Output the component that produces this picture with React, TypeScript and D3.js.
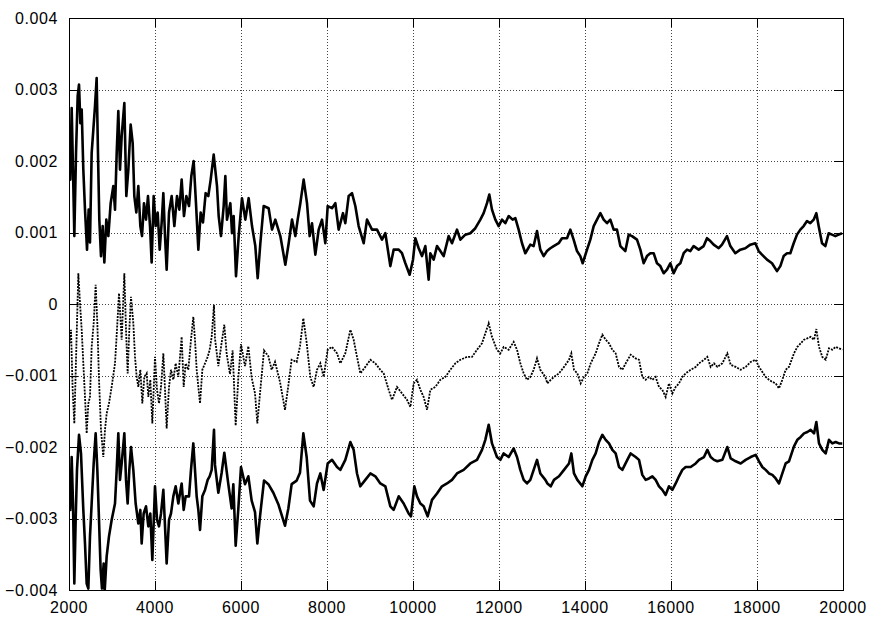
import React, { useEffect, useRef } from 'react';
import * as d3 from 'd3';

// series values are read in units of 1e-3
const UNIT = 1e-3;

const topSeries: [number, number][] = [
  [2000, 2.11], [2031, 1.74], [2062, 2.74], [2093, 1.88], [2124, 0.95], [2163, 2.11], [2202, 2.91],
  [2233, 3.07], [2264, 2.53], [2295, 2.72], [2333, 1.88], [2372, 1.32], [2419, 0.76], [2457, 1.32],
  [2488, 0.86], [2527, 2.11], [2566, 2.44], [2605, 2.77], [2643, 3.16], [2674, 2.11], [2705, 1.18],
  [2744, 0.67], [2783, 1.09], [2822, 0.58], [2868, 1.18], [2915, 0.95], [2969, 1.41], [3031, 1.65],
  [3070, 1.32], [3109, 2.11], [3147, 2.7], [3186, 1.88], [3225, 2.35], [3287, 2.81], [3333, 1.51],
  [3380, 1.88], [3434, 2.51], [3481, 2.25], [3519, 1.51], [3566, 1.28], [3612, 1.65], [3659, 1.09],
  [3698, 0.95], [3744, 1.41], [3791, 1.18], [3837, 1.51], [3884, 1.09], [3922, 0.58], [3969, 1.51],
  [4016, 1.09], [4062, 1.28], [4109, 0.76], [4155, 1.14], [4194, 1.55], [4233, 0.95], [4271, 0.48],
  [4326, 1.28], [4388, 1.51], [4450, 1.09], [4512, 1.51], [4566, 1.32], [4620, 1.74], [4674, 1.23],
  [4729, 1.51], [4791, 1.37], [4845, 1.79], [4899, 2.0], [4953, 1.41], [5008, 0.76], [5062, 1.28],
  [5116, 1.14], [5178, 1.55], [5240, 1.51], [5295, 1.74], [5365, 2.09], [5442, 1.65], [5481, 1.23],
  [5535, 0.95], [5597, 1.37], [5636, 1.79], [5674, 1.18], [5752, 1.41], [5791, 0.99], [5829, 1.23],
  [5884, 0.39], [5946, 0.95], [6023, 1.48], [6101, 1.18], [6178, 1.48], [6256, 1.09], [6333, 0.81],
  [6388, 0.36], [6450, 0.85], [6527, 1.37], [6643, 1.34], [6721, 1.04], [6798, 1.18], [6915, 0.95],
  [7031, 0.55], [7109, 0.85], [7186, 1.18], [7264, 0.95], [7318, 1.18], [7380, 1.41], [7457, 1.74],
  [7535, 1.41], [7597, 0.95], [7651, 1.13], [7729, 0.69], [7806, 1.04], [7884, 1.18], [7961, 0.85],
  [8016, 1.37], [8116, 1.34], [8194, 1.41], [8271, 1.04], [8372, 1.27], [8426, 1.13], [8504, 1.51],
  [8581, 1.55], [8659, 1.37], [8736, 1.09], [8853, 0.85], [8930, 1.18], [9047, 1.04], [9163, 1.04],
  [9279, 0.9], [9357, 0.99], [9473, 0.53], [9550, 0.76], [9667, 0.76], [9744, 0.71], [9822, 0.57],
  [9922, 0.41], [10000, 0.62], [10054, 0.92], [10132, 0.78], [10209, 0.67], [10287, 0.81], [10364, 0.34],
  [10403, 0.71], [10481, 0.62], [10558, 0.81], [10636, 0.74], [10713, 0.67], [10829, 0.95], [10907, 0.85],
  [11023, 1.04], [11101, 0.9], [11217, 0.97], [11333, 0.99], [11450, 1.06], [11566, 1.18], [11643, 1.27],
  [11721, 1.41], [11775, 1.53], [11837, 1.32], [11915, 1.18], [11992, 1.09], [12070, 1.18], [12147, 1.13],
  [12225, 1.23], [12318, 1.18], [12380, 1.2], [12457, 1.04], [12535, 0.85], [12612, 0.71], [12729, 0.83],
  [12806, 0.81], [12884, 1.02], [12961, 0.76], [13039, 0.67], [13116, 0.74], [13194, 0.78], [13271, 0.81],
  [13388, 0.85], [13465, 0.92], [13581, 0.92], [13659, 1.04], [13736, 0.9], [13814, 0.74], [13891, 0.67],
  [13946, 0.57], [14047, 0.76], [14124, 0.9], [14202, 1.09], [14279, 1.18], [14357, 1.27], [14434, 1.18],
  [14512, 1.13], [14589, 1.18], [14667, 1.04], [14744, 1.04], [14822, 0.81], [14938, 0.74], [15016, 0.97],
  [15093, 0.95], [15209, 0.9], [15287, 0.76], [15364, 0.57], [15442, 0.67], [15519, 0.71], [15597, 0.71],
  [15674, 0.57], [15752, 0.53], [15829, 0.43], [15907, 0.48], [15984, 0.57], [16062, 0.43], [16140, 0.53],
  [16217, 0.57], [16295, 0.71], [16372, 0.76], [16450, 0.74], [16527, 0.81], [16643, 0.76], [16760, 0.81],
  [16837, 0.92], [16915, 0.88], [16992, 0.83], [17109, 0.78], [17186, 0.83], [17302, 0.95], [17380, 0.81],
  [17496, 0.71], [17612, 0.76], [17729, 0.78], [17845, 0.83], [17961, 0.85], [18039, 0.74], [18116, 0.69],
  [18233, 0.62], [18349, 0.57], [18465, 0.46], [18543, 0.53], [18620, 0.67], [18698, 0.71], [18775, 0.71],
  [18853, 0.85], [18930, 0.97], [19008, 1.04], [19085, 1.09], [19163, 1.16], [19240, 1.13], [19318, 1.18],
  [19380, 1.27], [19434, 1.09], [19512, 0.85], [19589, 0.81], [19667, 0.99], [19744, 0.97], [19822, 0.95],
  [19899, 0.97], [19977, 0.99],
];

const middleSeries: [number, number][] = [
  [2000, -0.6], [2047, -0.36], [2085, -1.2], [2124, -1.67], [2171, -0.6], [2217, 0.43], [2256, 0.01],
  [2295, -0.36], [2333, -0.83], [2372, -1.3], [2411, -1.81], [2450, -1.39], [2488, -1.3], [2527, -0.6],
  [2574, -0.27], [2620, 0.27], [2659, -0.27], [2698, -1.06], [2744, -1.76], [2798, -2.14], [2837, -1.76],
  [2876, -1.53], [2930, -1.39], [2992, -1.16], [3070, -0.83], [3116, -0.36], [3163, 0.15], [3225, -0.5],
  [3287, 0.43], [3326, -0.36], [3364, -0.97], [3403, -0.36], [3442, 0.1], [3496, -0.27], [3535, -0.74],
  [3574, -1.02], [3612, -1.16], [3659, -0.92], [3705, -1.39], [3752, -1.02], [3806, -0.97], [3845, -1.3],
  [3891, -1.06], [3938, -1.67], [4000, -0.74], [4047, -1.2], [4093, -1.39], [4140, -1.16], [4194, -0.69],
  [4233, -1.2], [4271, -1.74], [4326, -1.16], [4372, -0.92], [4426, -1.06], [4481, -0.83], [4543, -1.02],
  [4581, -0.74], [4620, -0.46], [4667, -1.16], [4713, -0.83], [4775, -0.92], [4837, -0.5], [4891, -0.18],
  [4930, -0.5], [4969, -0.92], [5008, -1.16], [5047, -1.39], [5101, -0.92], [5163, -0.83], [5225, -0.74],
  [5271, -0.64], [5318, -0.46], [5372, -0.01], [5395, -0.48], [5473, -0.87], [5550, -0.54], [5612, -0.29],
  [5667, -0.7], [5744, -0.98], [5806, -0.65], [5876, -1.7], [5938, -1.03], [6000, -0.56], [6093, -0.87],
  [6171, -0.59], [6248, -1.03], [6326, -1.25], [6380, -1.67], [6442, -1.25], [6535, -0.65], [6636, -0.73],
  [6713, -0.92], [6791, -0.81], [6907, -1.09], [7023, -1.48], [7101, -1.14], [7178, -0.78], [7295, -0.81],
  [7372, -0.59], [7450, -0.2], [7527, -0.54], [7612, -1.02], [7690, -1.16], [7767, -0.92], [7845, -0.83],
  [7922, -1.02], [8016, -0.64], [8116, -0.6], [8233, -0.69], [8310, -0.83], [8426, -0.69], [8543, -0.36],
  [8620, -0.5], [8698, -0.74], [8775, -0.97], [8891, -0.88], [9008, -0.78], [9124, -0.83], [9240, -0.92],
  [9318, -0.97], [9434, -1.2], [9512, -1.34], [9628, -1.16], [9744, -1.25], [9860, -1.34], [9938, -1.44],
  [10016, -1.11], [10093, -1.06], [10171, -1.2], [10248, -1.3], [10326, -1.48], [10403, -1.2], [10519, -1.16],
  [10636, -1.06], [10752, -1.02], [10868, -0.92], [10984, -0.83], [11101, -0.78], [11256, -0.74], [11372, -0.74],
  [11488, -0.64], [11605, -0.55], [11682, -0.41], [11760, -0.27], [11837, -0.46], [11953, -0.64], [12031, -0.69],
  [12109, -0.6], [12225, -0.64], [12341, -0.53], [12419, -0.64], [12496, -0.83], [12574, -0.97], [12651, -1.06],
  [12729, -1.02], [12806, -0.92], [12884, -0.76], [12961, -0.92], [13078, -1.02], [13124, -1.11], [13202, -1.06],
  [13279, -1.02], [13395, -0.97], [13512, -0.88], [13628, -0.78], [13682, -0.69], [13744, -0.92], [13822, -0.97],
  [13899, -1.11], [13977, -1.02], [14054, -0.97], [14132, -0.83], [14248, -0.69], [14326, -0.55], [14403, -0.43],
  [14481, -0.5], [14558, -0.55], [14636, -0.64], [14713, -0.69], [14791, -0.88], [14868, -0.92], [14946, -0.83],
  [15062, -0.71], [15178, -0.76], [15256, -0.78], [15333, -1.02], [15411, -1.06], [15488, -1.02], [15566, -1.06],
  [15643, -1.02], [15721, -1.16], [15798, -1.2], [15876, -1.3], [15953, -1.11], [16031, -1.25], [16109, -1.16],
  [16186, -1.11], [16264, -1.02], [16341, -0.97], [16457, -0.92], [16574, -0.88], [16651, -0.83], [16767, -0.78],
  [16845, -0.74], [16922, -0.88], [17000, -0.83], [17078, -0.88], [17194, -0.83], [17310, -0.69], [17388, -0.85],
  [17504, -0.88], [17620, -0.92], [17736, -0.88], [17853, -0.81], [17969, -0.78], [18047, -0.88], [18124, -0.95],
  [18202, -1.02], [18279, -1.06], [18357, -1.09], [18434, -1.11], [18512, -1.18], [18589, -1.06], [18667, -0.92],
  [18744, -0.88], [18860, -0.69], [18938, -0.6], [19016, -0.55], [19093, -0.5], [19171, -0.48], [19248, -0.46],
  [19326, -0.5], [19380, -0.35], [19442, -0.6], [19519, -0.74], [19597, -0.78], [19674, -0.62], [19752, -0.64],
  [19829, -0.6], [19907, -0.62], [19984, -0.64],
];

const bottomSeries: [number, number][] = [
  [2000, -2.55], [2031, -2.88], [2062, -2.14], [2093, -2.79], [2124, -3.91], [2155, -3.02], [2186, -2.32],
  [2233, -1.83], [2279, -2.09], [2333, -2.88], [2372, -3.35], [2411, -3.91], [2450, -3.98], [2488, -3.25],
  [2527, -2.79], [2574, -2.23], [2620, -1.81], [2659, -2.32], [2698, -3.02], [2736, -3.72], [2767, -3.98],
  [2806, -3.63], [2829, -4.02], [2876, -3.53], [2930, -3.25], [2992, -3.02], [3070, -2.79], [3109, -2.32],
  [3147, -1.81], [3186, -2.46], [3225, -2.23], [3287, -1.81], [3326, -2.46], [3364, -2.79], [3403, -2.32],
  [3442, -2.0], [3496, -2.32], [3550, -2.79], [3612, -3.07], [3659, -2.88], [3690, -3.35], [3736, -2.93],
  [3791, -2.83], [3845, -3.11], [3891, -2.93], [3938, -3.58], [4000, -2.55], [4047, -3.02], [4093, -3.11],
  [4140, -2.93], [4194, -2.6], [4233, -3.11], [4271, -3.63], [4326, -3.02], [4372, -2.93], [4426, -2.69],
  [4481, -2.55], [4543, -2.79], [4581, -2.65], [4620, -2.51], [4667, -2.88], [4713, -2.69], [4791, -2.69],
  [4837, -2.32], [4891, -1.95], [4930, -2.32], [4969, -2.69], [5008, -2.88], [5047, -3.16], [5101, -2.69],
  [5163, -2.6], [5225, -2.46], [5271, -2.41], [5318, -2.32], [5372, -1.76], [5395, -2.25], [5473, -2.64],
  [5550, -2.36], [5612, -2.08], [5705, -2.52], [5783, -2.86], [5822, -2.52], [5876, -3.38], [5938, -2.86],
  [6000, -2.28], [6093, -2.52], [6171, -2.41], [6248, -2.75], [6326, -2.91], [6380, -3.35], [6442, -2.97],
  [6535, -2.47], [6636, -2.52], [6752, -2.64], [6868, -2.8], [7023, -3.1], [7101, -2.86], [7178, -2.52],
  [7295, -2.47], [7372, -2.36], [7450, -1.81], [7527, -2.14], [7605, -2.75], [7690, -2.83], [7767, -2.51],
  [7845, -2.37], [7922, -2.6], [8016, -2.23], [8116, -2.18], [8233, -2.28], [8310, -2.32], [8426, -2.18],
  [8543, -1.93], [8620, -2.04], [8698, -2.37], [8775, -2.55], [8891, -2.46], [9008, -2.37], [9124, -2.41],
  [9240, -2.51], [9357, -2.55], [9473, -2.83], [9550, -2.88], [9667, -2.69], [9783, -2.79], [9899, -2.93],
  [9953, -2.97], [10031, -2.55], [10093, -2.69], [10171, -2.79], [10248, -2.83], [10341, -2.97], [10442, -2.74],
  [10558, -2.65], [10674, -2.55], [10791, -2.51], [10907, -2.46], [11023, -2.37], [11178, -2.32], [11333, -2.23],
  [11488, -2.18], [11605, -2.04], [11682, -1.9], [11760, -1.69], [11837, -1.95], [11953, -2.14], [12031, -2.18],
  [12109, -2.09], [12225, -2.14], [12341, -2.02], [12419, -2.14], [12496, -2.32], [12574, -2.46], [12651, -2.51],
  [12729, -2.46], [12806, -2.32], [12884, -2.18], [12961, -2.37], [13078, -2.46], [13124, -2.51], [13202, -2.55],
  [13279, -2.46], [13395, -2.41], [13512, -2.32], [13628, -2.23], [13682, -2.09], [13744, -2.37], [13822, -2.46],
  [13938, -2.55], [14016, -2.41], [14093, -2.32], [14171, -2.18], [14248, -2.09], [14326, -1.93], [14403, -1.83],
  [14481, -1.9], [14558, -1.95], [14636, -2.04], [14713, -2.09], [14791, -2.28], [14868, -2.32], [14984, -2.18],
  [15062, -2.09], [15178, -2.14], [15256, -2.18], [15333, -2.39], [15411, -2.46], [15488, -2.44], [15566, -2.41],
  [15643, -2.46], [15721, -2.55], [15798, -2.6], [15876, -2.67], [15953, -2.55], [16031, -2.6], [16109, -2.51],
  [16186, -2.41], [16264, -2.32], [16341, -2.28], [16457, -2.28], [16574, -2.23], [16651, -2.18], [16767, -2.14],
  [16845, -2.04], [16922, -2.14], [17000, -2.18], [17078, -2.2], [17194, -2.18], [17310, -2.0], [17388, -2.16],
  [17504, -2.2], [17620, -2.23], [17736, -2.18], [17853, -2.14], [17969, -2.11], [18047, -2.2], [18124, -2.28],
  [18202, -2.32], [18279, -2.37], [18357, -2.39], [18434, -2.44], [18512, -2.51], [18589, -2.37], [18667, -2.23],
  [18744, -2.2], [18860, -1.99], [18938, -1.9], [19016, -1.86], [19093, -1.81], [19171, -1.79], [19248, -1.76],
  [19326, -1.81], [19380, -1.65], [19442, -1.95], [19519, -2.04], [19597, -2.09], [19674, -1.9], [19752, -1.95],
  [19829, -1.93], [19907, -1.95], [19984, -1.95],
];

const xTicks = [2000, 4000, 6000, 8000, 10000, 12000, 14000, 16000, 18000, 20000];
const yTicks = [-4, -3, -2, -1, 0, 1, 2, 3, 4];

const W = 869;
const H = 618;

const App = () => {
  const svgRef = useRef<SVGSVGElement>(null);

  useEffect(() => {
    const svg = d3.select(svgRef.current);
    svg.selectAll('*').remove();

    const left = 69, right = 843, top = 18, bottom = 590;
    const x = d3.scaleLinear().domain([2000, 20000]).range([left, right]);
    const y = d3.scaleLinear().domain([-4 * UNIT, 4 * UNIT]).range([bottom, top]);
    const px = (v: number) => Math.round(v) + 0.5;

    svg.append('rect').attr('width', W).attr('height', H).attr('fill', '#fff');

    svg.append('clipPath').attr('id', 'plot-clip')
      .append('rect')
      .attr('x', left).attr('y', top)
      .attr('width', right - left).attr('height', bottom - top);

    // dotted grid
    const grid = svg.append('g')
      .attr('stroke', '#444')
      .attr('stroke-width', 1)
      .attr('stroke-dasharray', '1,2');
    xTicks.slice(1, -1).forEach(t => {
      grid.append('line')
        .attr('x1', px(x(t))).attr('x2', px(x(t)))
        .attr('y1', top).attr('y2', bottom);
    });
    yTicks.slice(1, -1).forEach(t => {
      grid.append('line')
        .attr('x1', left).attr('x2', right)
        .attr('y1', px(y(t * UNIT))).attr('y2', px(y(t * UNIT)));
    });

    // inward tick marks on all four sides
    const ticks = svg.append('g').attr('stroke', '#000').attr('stroke-width', 1);
    const tl = 9;
    yTicks.forEach(t => {
      const yy = px(y(t * UNIT));
      ticks.append('line').attr('x1', left).attr('x2', left + tl).attr('y1', yy).attr('y2', yy);
      ticks.append('line').attr('x1', right - tl).attr('x2', right).attr('y1', yy).attr('y2', yy);
    });
    xTicks.forEach(t => {
      const xx = px(x(t));
      ticks.append('line').attr('x1', xx).attr('x2', xx).attr('y1', bottom).attr('y2', bottom - tl);
      ticks.append('line').attr('x1', xx).attr('x2', xx).attr('y1', top).attr('y2', top + tl);
    });

    const line = d3.line<[number, number]>()
      .x(d => x(d[0]))
      .y(d => y(d[1] * UNIT));

    const plot = svg.append('g').attr('clip-path', 'url(#plot-clip)');

    plot.append('path')
      .datum(middleSeries)
      .attr('d', line)
      .attr('fill', 'none')
      .attr('stroke', '#000')
      .attr('stroke-width', 1.8)
      .attr('stroke-dasharray', '2,1.2');

    plot.append('path')
      .datum(topSeries)
      .attr('d', line)
      .attr('fill', 'none')
      .attr('stroke', '#000')
      .attr('stroke-width', 2.6)
      .attr('stroke-linejoin', 'round');

    plot.append('path')
      .datum(bottomSeries)
      .attr('d', line)
      .attr('fill', 'none')
      .attr('stroke', '#000')
      .attr('stroke-width', 2.6)
      .attr('stroke-linejoin', 'round');

    // frame
    svg.append('rect')
      .attr('x', left + 0.5).attr('y', top + 0.5)
      .attr('width', right - left).attr('height', bottom - top)
      .attr('fill', 'none')
      .attr('stroke', '#000')
      .attr('stroke-width', 1);

    const font = 'Liberation Sans, Arial, Helvetica, sans-serif';

    svg.append('g')
      .selectAll('text')
      .data(yTicks)
      .enter()
      .append('text')
      .attr('x', 58)
      .attr('y', d => y(d * UNIT))
      .attr('dy', '0.36em')
      .attr('text-anchor', 'end')
      .attr('font-family', font)
      .attr('font-size', 16)
      .attr('letter-spacing', 0.6)
      .text(d => (d === 0 ? '0' : d3.format('.3f')(d * UNIT)));

    svg.append('g')
      .selectAll('text')
      .data(xTicks)
      .enter()
      .append('text')
      .attr('x', d => x(d))
      .attr('y', bottom + 17)
      .attr('dy', '0.36em')
      .attr('text-anchor', 'middle')
      .attr('font-family', font)
      .attr('font-size', 16)
      .attr('letter-spacing', 0.6)
      .text(d => String(d));
  }, []);

  return (
    <svg
      ref={svgRef}
      width={W}
      height={H}
      style={{ position: 'absolute', left: 0, top: 0, display: 'block' }}
    />
  );
};

export default App;
